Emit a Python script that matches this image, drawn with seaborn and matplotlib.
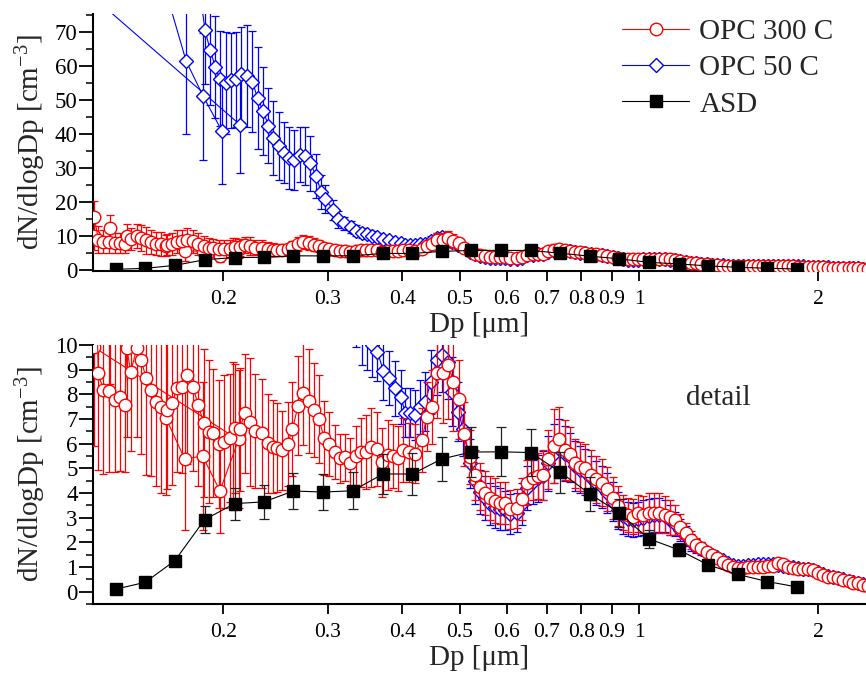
import numpy as np
import pandas as pd
import matplotlib
matplotlib.use("Agg")
import matplotlib.pyplot as plt
import seaborn as sns
from matplotlib.lines import Line2D
from matplotlib.ticker import FixedLocator, NullLocator, MultipleLocator

# ---------------- data ----------------
series_labels = ["OPC 300 C", "OPC 50 C", "ASD"]
x_ticks = [0.2, 0.3, 0.4, 0.5, 0.6, 0.7, 0.8, 0.9, 1, 2]
x_tick_labels = ["0.2", "0.3", "0.4", "0.5", "0.6", "0.7", "0.8", "0.9", "1", "2"]

# ASD (black squares)
asd_x = [0.1319, 0.148, 0.166, 0.1862, 0.2091, 0.2343, 0.2624, 0.2946, 0.3302, 0.3713,
         0.4159, 0.4662, 0.5221, 0.5862, 0.6577, 0.7375, 0.8273, 0.9268, 1.039, 1.166,
         1.308, 1.465, 1.643, 1.845]
asd_y = [0.10, 0.38, 1.26, 2.92, 3.57, 3.64, 4.08, 4.04, 4.09, 4.77,
         4.77, 5.38, 5.66, 5.67, 5.64, 4.84, 3.96, 3.19, 2.14, 1.70,
         1.08, 0.70, 0.41, 0.19]
asd_err = [0.05, 0.08, 0.15, 0.55, 0.65, 0.68, 0.74, 0.73, 0.75, 0.81,
           0.84, 0.90, 1.00, 1.00, 0.97, 0.83, 0.70, 0.55, 0.36, 0.26,
           0.12, 0.08, 0.06, 0.05]

# OPC 300 C (red circles) - plotting order; runs: sparse pair, first scan, main scan, lone point
opc300_x = [0.1215, 0.2077,
            0.1215, 0.1234, 0.1258, 0.1288, 0.1316, 0.1342, 0.1368, 0.1378, 0.1399, 0.1432,
            0.1457, 0.1485, 0.1514, 0.1543, 0.1573, 0.1604, 0.1724, 0.1847, 0.1976, 0.2125,
            0.1610, 0.1642, 0.1675, 0.1707, 0.1741, 0.1780, 0.1816, 0.1856, 0.1891, 0.1927,
            0.1969, 0.2007, 0.2053, 0.2092, 0.2133, 0.2174, 0.2221, 0.2265, 0.2328, 0.2378,
            0.2422, 0.2468, 0.2517, 0.2567, 0.2616, 0.2673, 0.2728, 0.2786, 0.2840, 0.2897,
            0.2957, 0.3015, 0.3081, 0.3145, 0.3207, 0.3274, 0.3341, 0.3407, 0.3478, 0.3550,
            0.3624, 0.3700, 0.3780, 0.3860, 0.3940, 0.4020, 0.4110, 0.4200, 0.4316, 0.4399,
            0.4484, 0.4584, 0.4679, 0.4780, 0.4878, 0.4989, 0.5088, 0.5195, 0.5302, 0.5405,
            0.5510, 0.5617, 0.5727, 0.5838, 0.5951, 0.6067, 0.6226, 0.6362, 0.6486, 0.6624,
            0.6770, 0.6903, 0.7038, 0.7198, 0.7340, 0.7516, 0.7659, 0.7806, 0.7960, 0.8115,
            0.8295, 0.8466, 0.8654, 0.8846, 0.9033, 0.9231, 0.9411, 0.9594, 0.9782, 0.9973,
            1.017, 1.039, 1.060, 1.082, 1.106, 1.127, 1.149, 1.172, 1.199, 1.222,
            1.247, 1.271, 1.300, 1.325, 1.351, 1.386, 1.413, 1.440, 1.469, 1.497,
            1.526, 1.556, 1.587, 1.618, 1.649, 1.682, 1.714, 1.748, 1.782, 1.817,
            1.852, 1.888, 1.925, 1.963, 2.000, 2.04, 2.08, 2.12, 2.16, 2.20,
            2.25, 2.29, 2.33, 2.38, 2.43,
            0.1290]
opc300_y = [9.9, 6.3,
            15.6, 8.85, 8.18, 8.15, 7.77, 7.88, 7.57, 9.86, 8.92, 9.86,
            9.39, 8.65, 8.18, 7.70, 7.50, 7.03, 5.38, 5.50, 4.09, 6.18,
            7.37, 7.64, 8.24, 8.31, 8.78, 8.31, 7.57, 6.83, 6.49, 6.42,
            5.99, 6.08, 6.22, 6.62, 6.58, 7.23, 6.89, 6.52, 6.42, 6.01,
            5.88, 5.84, 5.74, 5.99, 6.58, 7.54, 8.04, 7.74, 7.37, 7.00,
            6.24, 5.97, 5.66, 5.41, 5.45, 5.23, 5.51, 5.65, 5.65, 5.85,
            5.80, 5.25, 5.54, 5.50, 5.40, 5.74, 5.65, 5.60, 6.15, 7.09,
            7.50, 8.85, 8.85, 9.19, 8.51, 7.80, 6.38, 5.47, 4.73, 4.26,
            4.01, 3.79, 3.69, 3.61, 3.58, 3.34, 3.38, 3.75, 4.42, 4.60,
            4.69, 4.73, 5.37, 5.91, 6.18, 5.74, 5.58, 5.20, 5.07, 5.00,
            4.73, 4.56, 4.42, 4.15, 3.79, 3.47, 3.20, 3.11, 3.04, 3.18,
            3.11, 3.18, 3.18, 3.18, 3.11, 3.01, 2.91, 2.63, 2.37, 2.10,
            1.89, 1.76, 1.62, 1.49, 1.35, 1.22, 1.08, 1.01, 0.97, 0.97,
            0.99, 0.99, 1.01, 1.01, 1.04, 1.05, 1.18, 1.12, 1.01, 0.95,
            0.91, 0.91, 0.91, 0.88, 0.77, 0.68, 0.61, 0.58, 0.54, 0.47,
            0.45, 0.36, 0.34, 0.27, 0.25,
            12.3]
opc300_err = [4.0, 3.0,
              4.7, 3.9, 3.4, 3.3, 2.9, 3.0, 2.7, 3.6, 3.2, 3.6,
              3.8, 3.9, 3.5, 3.4, 3.5, 3.1, 2.9, 3.0, 1.7, 2.8,
              3.2, 3.3, 3.4, 3.5, 3.6, 3.4, 3.3, 3.0, 2.9, 2.6,
              2.6, 2.7, 2.6, 2.6, 2.5, 2.4, 2.6, 2.3, 2.2, 2.0,
              1.9, 1.8, 1.6, 1.7, 1.9, 2.0, 2.1, 2.1, 1.9, 1.8,
              1.5, 1.3, 1.1, 1.0, 0.95, 1.0, 1.2, 1.4, 1.5, 1.6,
              1.5, 1.4, 1.4, 1.3, 1.3, 1.3, 1.2, 1.2, 1.3, 1.4,
              1.5, 1.8, 2.0, 2.2, 2.0, 1.6, 1.3, 1.1, 1.0, 0.95,
              0.9, 0.9, 0.9, 0.85, 0.85, 0.8, 0.8, 0.85, 0.9, 0.9,
              0.95, 1.0, 1.2, 1.5, 1.3, 1.2, 1.1, 1.0, 1.0, 1.0,
              1.0, 0.95, 0.95, 0.9, 0.85, 0.8, 0.7, 0.7, 0.7, 0.75,
              0.75, 0.8, 0.8, 0.8, 0.75, 0.7, 0.6, 0.5, 0.4, 0.35,
              0.3, 0.25, 0.2, 0.18, 0.15, 0.12, 0.12, 0.12, 0.12, 0.12,
              0.12, 0.12, 0.12, 0.12, 0.12, 0.12, 0.12, 0.12, 0.12, 0.12,
              0.12, 0.12, 0.12, 0.12, 0.12, 0.12, 0.12, 0.12, 0.12, 0.12,
              0.12, 0.12, 0.12, 0.12, 0.12,
              3.9]
opc300_run_lengths = [2, 20, len(opc300_x) - 23, 1]

# OPC 50 C (blue diamonds)
opc50_x = [0.1215, 0.2135,
           0.1615, 0.1733, 0.1853, 0.1993,
           0.1835, 0.1864, 0.1903, 0.1941, 0.1973, 0.2019, 0.2063, 0.2103, 0.2144, 0.2190,
           0.2241, 0.2285, 0.2335, 0.2384, 0.2428, 0.2479, 0.2535, 0.2585, 0.2636, 0.2689,
           0.2747, 0.2804, 0.2867, 0.2922, 0.2972, 0.3062, 0.3125, 0.3188, 0.3278, 0.3343,
           0.3430, 0.3497, 0.3560, 0.3634, 0.3718, 0.3806, 0.3895, 0.3978, 0.4048, 0.4125,
           0.4204, 0.4290, 0.4370, 0.4470, 0.4573, 0.4670, 0.4770, 0.4849, 0.4968, 0.5065,
           0.5195, 0.5302, 0.5405, 0.5510, 0.5617, 0.5727, 0.5838, 0.5951, 0.6067, 0.6226,
           0.6362, 0.6486, 0.6624, 0.6770, 0.6903, 0.7038, 0.7198, 0.7340, 0.7516, 0.7659,
           0.7806, 0.7960, 0.8115, 0.8295, 0.8466, 0.8654, 0.8846, 0.9033, 0.9231, 0.9411,
           0.9594, 0.9782, 0.9973, 1.017, 1.039, 1.060, 1.082, 1.106, 1.127, 1.149,
           1.172, 1.199, 1.222, 1.247, 1.271, 1.300, 1.325, 1.351, 1.386, 1.413,
           1.440, 1.469, 1.497, 1.526, 1.556, 1.587, 1.618, 1.649, 1.682, 1.714,
           1.748, 1.782, 1.817, 1.852, 1.888, 1.925, 1.963, 2.000, 2.04, 2.08,
           2.12, 2.16, 2.20, 2.25, 2.29, 2.33, 2.38, 2.43]
opc50_y = [80.0, 42.7,
           80.0, 61.5, 51.0, 40.7,
           80.0, 70.7, 64.6, 59.7, 56.3, 54.9, 55.8, 56.1, 57.6, 57.0,
           55.4, 50.5, 46.8, 42.4, 38.8, 36.5, 34.4, 32.9, 32.3, 33.9,
           33.4, 31.3, 27.6, 22.9, 20.8, 17.6, 14.9, 13.6, 12.5, 11.5,
           10.7, 10.4, 10.0, 9.73, 8.96, 8.65, 8.24, 7.88, 7.26, 7.26,
           7.16, 7.50, 7.70, 8.50, 9.39, 9.60, 9.30, 8.10, 7.30, 6.58,
           5.20, 4.50, 4.05, 3.80, 3.55, 3.45, 3.35, 3.30, 3.15, 3.20,
           3.55, 4.20, 4.45, 4.60, 4.70, 5.20, 5.60, 5.80, 5.60, 5.45,
           5.10, 4.95, 4.85, 4.60, 4.40, 4.25, 4.00, 3.65, 3.30, 3.05,
           2.95, 2.90, 2.95, 3.00, 3.05, 3.10, 3.10, 3.05, 2.90, 2.75,
           2.50, 2.25, 2.00, 1.85, 1.75, 1.60, 1.50, 1.40, 1.28, 1.15,
           1.08, 1.04, 1.04, 1.07, 1.10, 1.12, 1.13, 1.13, 1.12, 1.10,
           1.06, 1.02, 0.98, 0.95, 0.93, 0.92, 0.89, 0.80, 0.71, 0.64,
           0.60, 0.55, 0.50, 0.45, 0.40, 0.36, 0.30, 0.28]
opc50_err = [0.0, 14.3,
             0.0, 21.5, 18.7, 15.6,
             0.0, 16, 16, 15, 14, 15, 14, 14, 14, 15,
             15, 15, 13, 11, 11, 10, 9, 9, 8.7, 8,
             8.5, 8, 6.5, 5, 4, 3, 2.5, 2, 1.8, 1.6,
             1.5, 1.4, 1.3, 1.2, 1.2, 1.1, 1.1, 1.1, 1.0, 1.0,
             1.0, 1.1, 1.2, 1.3, 1.4, 1.5, 1.5, 1.4, 1.2, 1.1,
             1.0, 0.95, 0.9, 0.9, 0.85, 0.85, 0.85, 0.8, 0.8, 0.8,
             0.85, 0.9, 0.9, 0.95, 1.0, 1.1, 1.2, 1.2, 1.1, 1.0,
             1.0, 0.95, 0.95, 0.9, 0.9, 0.85, 0.8, 0.8, 0.75, 0.7,
             0.7, 0.7, 0.7, 0.7, 0.7, 0.7, 0.7, 0.65, 0.6, 0.5,
             0.45, 0.4, 0.35, 0.3, 0.25, 0.2, 0.18, 0.15, 0.12, 0.12,
             0.12, 0.12, 0.12, 0.12, 0.12, 0.12, 0.12, 0.12, 0.12, 0.12,
             0.12, 0.12, 0.12, 0.12, 0.12, 0.12, 0.12, 0.12, 0.12, 0.12,
             0.12, 0.12, 0.12, 0.12, 0.12, 0.12, 0.12, 0.12]
opc50_run_lengths = [2, 4, len(opc50_x) - 6]


def runs_to_ids(lengths):
    ids = []
    for i, n in enumerate(lengths):
        ids += [i] * n
    return ids


# ---------------- style ----------------
sns.set_style("ticks")
plt.rcParams['font.family'] = ['Liberation Serif', 'DejaVu Serif']
plt.rcParams['mathtext.default'] = 'regular'

RED, BLUE, BLACK = '#ff0000', '#0000ff', '#000000'
MS_CIRCLE, MS_DIAMOND, MS_SQUARE = 9.0, 7.4, 8.2

df_red = pd.DataFrame({'x': opc300_x, 'y': opc300_y, 'err': opc300_err,
                       'seg': runs_to_ids(opc300_run_lengths)})
df_blue = pd.DataFrame({'x': opc50_x, 'y': opc50_y, 'err': opc50_err,
                        'seg': runs_to_ids(opc50_run_lengths)})
df_asd = pd.DataFrame({'x': asd_x, 'y': asd_y, 'err': asd_err, 'seg': [0] * len(asd_x)})

styles = [
    (df_blue, dict(color=BLUE, ecolor=BLUE, marker='D', ms=MS_DIAMOND, mfc='white', cap=2.6, z=3)),
    (df_red, dict(color=RED, ecolor=RED, marker='o', ms=MS_CIRCLE, mfc='white', cap=2.6, z=4)),
    (df_asd, dict(color=BLACK, ecolor='#222222', marker='s', ms=MS_SQUARE, mfc=BLACK, cap=3.8, z=5)),
]

fig = plt.figure(figsize=(8.66, 6.77), dpi=100)
ax1 = fig.add_axes([93 / 866, 1 - 271 / 677, 1 - 93 / 866, (271 - 14) / 677])
ax2 = fig.add_axes([93 / 866, 1 - 604 / 677, 1 - 93 / 866, (604 - 345) / 677])


def draw(ax):
    ax.set_xscale('log')
    for df, st in styles:
        ax.errorbar(df['x'], df['y'], yerr=df['err'], fmt='none', ecolor=st['ecolor'],
                    elinewidth=0.9, capsize=st['cap'], capthick=0.9, zorder=st['z'] - 0.5)
        sns.lineplot(data=df, x='x', y='y', units='seg', estimator=None, sort=False,
                     ax=ax, color=st['color'], marker=st['marker'], markersize=st['ms'],
                     markerfacecolor=st['mfc'], markeredgecolor=st['color'],
                     markeredgewidth=1.0, linewidth=0.8, zorder=st['z'], legend=False)


for ax, ylim, major, minor in ((ax1, (-0.4, 75.3), 10, 5), (ax2, (-0.5, 10.0), 1, 0.5)):
    draw(ax)
    ax.set_xscale('log')
    ax.set_xlim(0.1209, 2.407)
    ax.set_ylim(*ylim)
    ax.xaxis.set_major_locator(FixedLocator(x_ticks))
    ax.xaxis.set_minor_locator(NullLocator())
    ax.set_xticklabels(x_tick_labels)
    ax.yaxis.set_major_locator(MultipleLocator(major))
    ax.yaxis.set_minor_locator(MultipleLocator(minor))
    ax.tick_params(axis='x', which='major', direction='out', length=7, width=1.3,
                   pad=7, labelsize=15.5, colors='black')
    ax.tick_params(axis='y', which='major', direction='out', length=10, width=1.3,
                   pad=1, labelsize=16.5, colors='black')
    ax.tick_params(axis='y', which='minor', direction='out', length=5, width=1.3)
    for s in ('top', 'right'):
        ax.spines[s].set_visible(False)
    for s in ('left', 'bottom'):
        ax.spines[s].set_linewidth(1.5)
        ax.spines[s].set_color('black')
    ax.set_xlabel('Dp [μm]', fontsize=21, labelpad=2)
    ax.set_ylabel('dN/dlogDp [cm$^{-3}$]', fontsize=21)
    ax.yaxis.set_label_coords(-0.058, 0.5)

handles = [
    Line2D([], [], color=RED, marker='o', markersize=MS_CIRCLE, markerfacecolor='white',
           markeredgecolor=RED, markeredgewidth=1.0, linewidth=0.8),
    Line2D([], [], color=BLUE, marker='D', markersize=MS_DIAMOND, markerfacecolor='white',
           markeredgecolor=BLUE, markeredgewidth=1.0, linewidth=0.8),
    Line2D([], [], color=BLACK, marker='s', markersize=MS_SQUARE, markerfacecolor=BLACK,
           markeredgecolor=BLACK, markeredgewidth=1.0, linewidth=0.8),
]
ax1.legend(handles, series_labels, loc='upper left', bbox_to_anchor=(622 / 866, 1 - 19 / 677),
           bbox_transform=fig.transFigure, frameon=False, fontsize=21, handlelength=2.3,
           handletextpad=0.35, labelspacing=0.33, borderpad=0, borderaxespad=0)

fig.text(718 / 866, 1 - 398 / 677, 'detail', ha='center', va='center', fontsize=21)

fig.savefig('out.png', dpi=100)
